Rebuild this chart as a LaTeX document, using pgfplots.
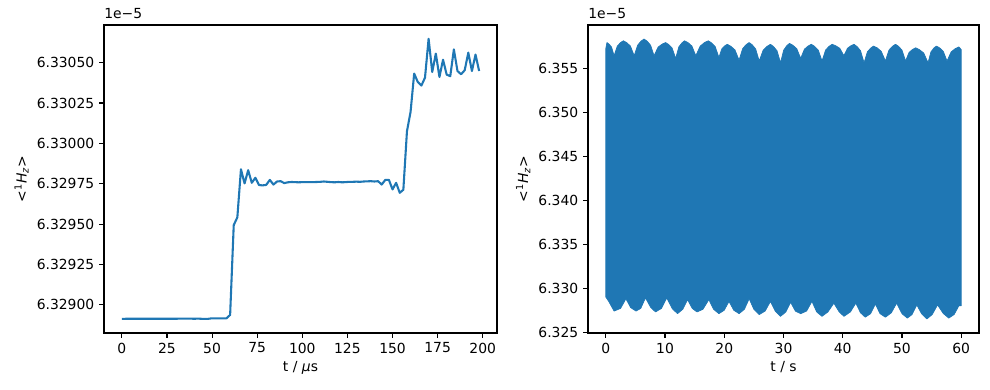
\documentclass[border=0pt]{standalone}
\usepackage{fontspec}
\setmainfont{DejaVu Sans}
\usepackage{pgfplots}
\pgfplotsset{compat=1.18}
\usepackage{pgfplotstable}
\definecolor{c0}{HTML}{1F77B4}

% left: y = (value*1e5 - 6.329)*1e5
\pgfplotstableread{
t v
0 -8.7
2 -8.6
4 -8.6
6 -8.6
8 -8.6
10 -8.6
12 -8.6
14 -8.6
16 -8.6
18 -8.6
20 -8.6
22 -8.6
24 -8.6
26 -8.6
28 -8.6
30 -8.6
32 -8.5
34 -8.5
36 -8.5
38 -8.5
40 -8.6
42 -8.5
44 -8.6
46 -8.7
48 -8.6
50 -8.3
52 -8.3
54 -8.3
56 -8.3
58 -8.3
60 -6.2
62 49.4
64 54.2
66 84.0
68 75.2
70 83.4
72 75.6
74 78.7
76 74.2
78 74.0
80 74.3
82 77.4
84 74.5
86 76.4
88 76.6
90 75.4
92 75.9
94 76.1
96 76.0
98 75.9
100 76.0
102 76.0
104 76.0
106 76.0
108 76.1
110 76.2
112 76.4
114 76.2
116 76.0
118 75.9
120 76.1
122 75.9
124 76.0
126 76.2
128 76.2
130 76.3
132 76.2
134 76.4
136 76.5
138 76.6
140 76.4
142 76.6
144 74.5
146 77.4
148 77.4
150 71.5
152 75.6
154 69.4
156 71.3
158 107.5
160 119.5
162 143.2
164 138.0
166 135.8
168 140.7
170 164.8
172 144.2
174 155.6
176 141.1
178 151.8
180 142.6
182 141.6
184 158.2
186 144.8
188 142.8
190 145.3
192 156.2
194 144.8
196 155.0
198 144.8
}\leftdata

% right: y = (value*1e5 - 6.32)*1000 ; outline of the dense oscillation:
% upper envelope forward in t, then lower envelope backward in t
\pgfplotstableread{
t y
0.0 37.3
0.2 38.0
0.56 37.82
0.98 37.48
1.4 36.5
1.95 37.6
2.5 38.0
2.97 38.2
3.52 38.0
4.16 37.6
4.8 36.5
5.38 37.7
5.96 38.17
6.46 38.4
6.97 38.17
7.56 37.7
8.15 36.5
8.83 37.48
9.52 37.82
10.1 38.0
10.61 37.78
11.2 37.37
11.8 36.2
12.33 37.5
12.85 37.96
13.3 38.2
13.87 38.0
14.54 37.6
15.2 36.5
15.94 37.6
16.67 38.0
17.3 38.2
17.84 37.97
18.47 37.54
19.1 36.3
19.59 37.28
20.08 37.62
20.5 37.8
21.1 37.58
21.8 37.17
22.5 36.0
23.1 37.3
23.69 37.76
24.2 38.0
24.71 37.75
25.3 37.27
25.9 35.9
26.57 37.14
27.23 37.57
27.8 37.8
28.31 37.55
28.9 37.07
29.5 35.7
30.03 37.13
30.55 37.64
31.0 37.9
31.57 37.7
32.24 37.3
32.9 36.2
33.53 37.24
34.16 37.61
34.7 37.8
35.24 37.57
35.87 37.14
36.5 35.9
37.1 37.14
37.69 37.57
38.2 37.8
38.8 37.64
39.5 37.35
40.2 36.5
40.8 37.35
41.39 37.64
41.9 37.8
42.41 37.55
43.0 37.07
43.6 35.7
44.16 36.94
44.72 37.37
45.2 37.6
45.8 37.4
46.5 37.0
47.2 35.9
47.8 37.14
48.39 37.57
48.9 37.8
49.41 37.57
50.0 37.14
50.6 35.9
51.2 36.88
51.79 37.22
52.3 37.4
52.93 37.2
53.67 36.8
54.4 35.7
54.89 36.94
55.38 37.37
55.8 37.6
56.34 37.4
56.97 37.0
57.6 35.9
58.3 36.94
59.0 37.31
59.6 37.5
60.0 37.2
60.0 8.0
59.6 8.0
58.8 7.0
57.9 6.6
57.0 7.1
56.0 8.1
55.1 7.0
54.2 6.5
53.3 7.1
52.5 8.1
51.7 7.0
50.9 6.6
50.0 7.1
49.1 8.3
48.2 7.2
47.2 6.7
46.3 7.1
45.5 8.2
44.7 7.1
43.8 6.7
43.0 7.2
42.2 8.3
41.3 7.3
40.2 6.8
39.4 7.3
38.5 8.3
37.5 7.3
36.5 6.8
35.6 7.3
34.8 8.5
33.9 7.4
32.9 7.1
32.0 7.4
31.2 8.4
30.4 7.3
29.5 6.8
28.6 7.4
27.8 8.5
26.9 7.4
25.9 7.0
25.0 7.6
24.2 8.8
23.4 7.6
22.5 7.1
21.6 7.5
20.8 8.5
20.0 7.5
19.1 7.1
18.2 7.6
17.4 8.7
16.4 7.6
15.4 7.3
14.6 7.7
13.8 8.7
13.0 7.6
12.1 7.1
11.2 7.7
10.3 8.9
9.4 7.7
8.4 7.3
7.6 7.8
6.7 8.9
5.9 7.7
5.1 7.4
4.2 7.8
3.4 8.8
2.5 7.7
1.4 7.4
0.5 8.5
0 9.0
}\rightdata

\pgfplotsset{
  mpl/.style={
    scale only axis,
    height=221.76pt,
    axis line style={line width=0.8pt},
    every tick/.style={black, line width=0.8pt},
    major tick length=3.5pt,
    tick align=outside,
    xtick pos=bottom, ytick pos=left,
    /pgf/number format/assume math mode=true,
    tick label style={font=\fontsize{10}{12}\selectfont},
    label style={font=\fontsize{10}{12}\selectfont},
    xlabel style={yshift=1pt},
    ylabel style={yshift=-1pt},
  }
}

\begin{document}
\begin{tikzpicture}
\begin{axis}[mpl, name=ax1,
  at={(74.88pt,41.04pt)}, anchor=south west,
  width=282.96pt,
  xmin=-9.9, xmax=207.9,
  ymin=-17.4, ymax=173.3,
  xtick={0,25,...,200},
  ytick={0,25,50,75,100,125,150},
  yticklabels={6.32900,6.32925,6.32950,6.32975,6.33000,6.33025,6.33050},
  xlabel={t / \textit{μ}s},
  ylabel={<\textsuperscript{1}\textit{H}\textsubscript{\textit{z}}>},
]
\addplot[c0, line width=1.5pt, line join=round] table[x=t, y=v] {\leftdata};
\end{axis}
\node[anchor=south west, inner sep=0pt, font=\fontsize{10}{12}\selectfont] at ([yshift=4pt]ax1.north west) {1e−5};

\begin{axis}[mpl, name=ax2,
  at={(423.36pt,41.04pt)}, anchor=south west,
  width=281.52pt,
  xmin=-3, xmax=63,
  ymin=4.9, ymax=40.0,
  xtick={0,10,...,60},
  ytick={5,10,15,20,25,30,35},
  yticklabels={6.325,6.330,6.335,6.340,6.345,6.350,6.355},
  xlabel={t / s},
  ylabel={<\textsuperscript{1}\textit{H}\textsubscript{\textit{z}}>},
]
\addplot[c0, fill=c0, line width=0.5pt, line join=round] table[x=t, y=y] {\rightdata} -- cycle;
\end{axis}
\node[anchor=south west, inner sep=0pt, font=\fontsize{10}{12}\selectfont] at ([yshift=4pt]ax2.north west) {1e−5};
\path[use as bounding box] (0,0) rectangle (712.8pt,280.8pt);
\end{tikzpicture}
\end{document}
